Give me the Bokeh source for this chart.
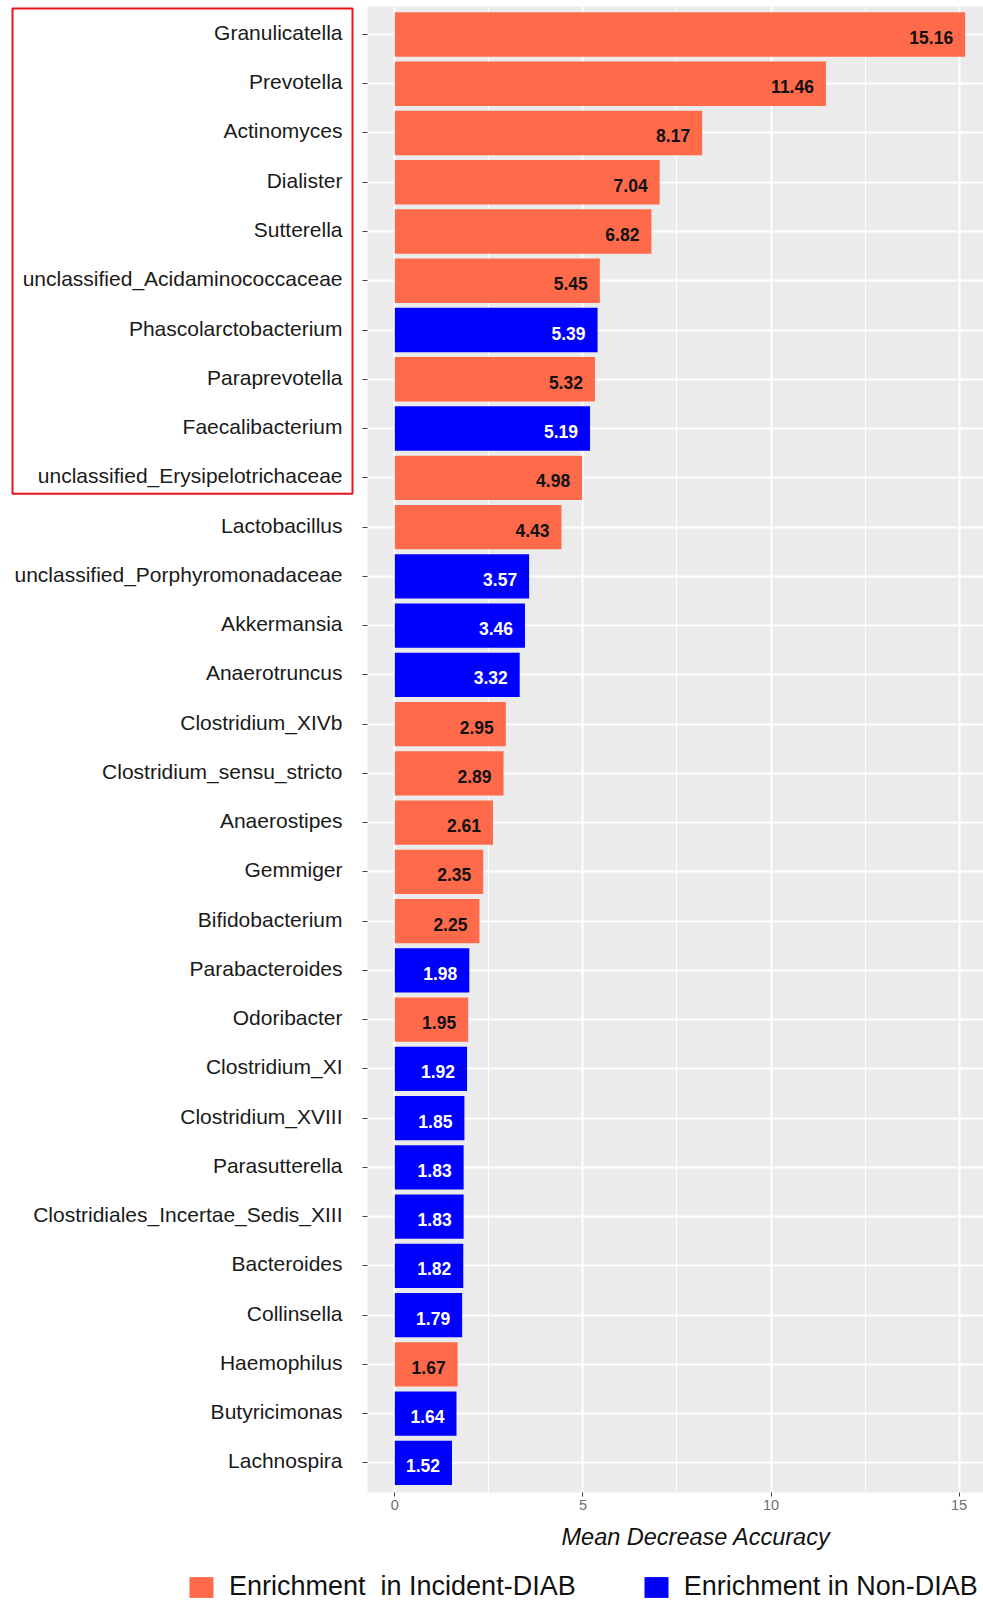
from bokeh.plotting import figure
from bokeh.layouts import row, column
from bokeh.models import (ColumnDataSource, Range1d, FixedTicker, Legend, LegendItem, Title)
from bokeh.core.properties import value
from bokeh.embed import file_html
from bokeh.resources import INLINE

# ---- data (top to bottom) ----
genera = ["Granulicatella", "Prevotella", "Actinomyces", "Dialister", "Sutterella",
          "unclassified_Acidaminococcaceae", "Phascolarctobacterium", "Paraprevotella",
          "Faecalibacterium", "unclassified_Erysipelotrichaceae", "Lactobacillus",
          "unclassified_Porphyromonadaceae", "Akkermansia", "Anaerotruncus",
          "Clostridium_XIVb", "Clostridium_sensu_stricto", "Anaerostipes", "Gemmiger",
          "Bifidobacterium", "Parabacteroides", "Odoribacter", "Clostridium_XI",
          "Clostridium_XVIII", "Parasutterella", "Clostridiales_Incertae_Sedis_XIII",
          "Bacteroides", "Collinsella", "Haemophilus", "Butyricimonas", "Lachnospira"]
mda = [15.16, 11.46, 8.17, 7.04, 6.82, 5.45, 5.39, 5.32, 5.19, 4.98, 4.43, 3.57, 3.46,
       3.32, 2.95, 2.89, 2.61, 2.35, 2.25, 1.98, 1.95, 1.92, 1.85, 1.83, 1.83, 1.82,
       1.79, 1.67, 1.64, 1.52]
group = ["I", "I", "I", "I", "I", "I", "N", "I", "N", "I", "I", "N", "N", "N", "I", "I",
         "I", "I", "I", "N", "I", "N", "N", "N", "N", "N", "N", "I", "N", "N"]
group_names = {"I": "Enrichment  in Incident-DIAB", "N": "Enrichment in Non-DIAB"}
x_ticks = [0, 5, 10, 15]
highlight_n = 10  # top genera framed in red

ORANGE = "#FF6A4B"
BLUE = "#0000FF"
fill = [ORANGE if g == "I" else BLUE for g in group]
tcol = ["#111111" if g == "I" else "white" for g in group]
idx = list(range(len(genera)))

src = ColumnDataSource(dict(idx=idx, val=mda, fill=fill, tcol=tcol, name=genera,
                            lab=[f"{v:.2f}" for v in mda]))

H1 = 1565
BOT = H1 - 1492
y_rng = Range1d(29.6, -0.568)

# ---- left panel: genus names + red highlight frame ----
L = figure(width=359, height=H1, output_backend="svg", toolbar_location=None,
           x_range=Range1d(0, 359), y_range=y_rng, x_axis_type=None, y_axis_type=None,
           min_border_left=0, min_border_right=0, min_border_top=6, min_border_bottom=BOT)
L.background_fill_color = "white"
L.border_fill_color = "white"
L.outline_line_color = None
L.xgrid.visible = False
L.ygrid.visible = False
L.text(x=342, y="idx", text="name", text_align="right", text_baseline="middle",
       y_offset=-2, text_color="#1a1a1a", text_font=value("Liberation Sans"),
       text_font_size="21px", source=src)
L.quad(left=[12], right=[352], top=[-0.528], bottom=[highlight_n - 1 + 0.324],
       fill_alpha=0, line_color="#E8141B", line_width=2)

# ---- main panel ----
M = figure(width=624, height=H1, output_backend="svg", toolbar_location=None,
           x_range=Range1d(-0.7257, 15.648), y_range=y_rng,
           min_border_left=8, min_border_right=0, min_border_top=6, min_border_bottom=BOT)
M.background_fill_color = "#EBEBEB"
M.border_fill_color = "white"
M.outline_line_color = None

r = M.hbar(y="idx", left=0, right="val", height=0.9, fill_color="fill",
           line_color=None, source=src)
M.text(x="val", y="idx", text="lab", text_align="right", text_baseline="middle",
       x_offset=-12, y_offset=3, text_color="tcol", text_font=value("Liberation Sans"),
       text_font_style="bold", text_font_size="17.5px", source=src)

xa = M.xaxis[0]
xa.ticker = FixedTicker(ticks=x_ticks, minor_ticks=[2.5, 7.5, 12.5])
xa.axis_line_color = None
xa.major_tick_out = 4
xa.major_tick_in = 0
xa.minor_tick_line_color = None
xa.major_tick_line_color = "#444444"
xa.major_label_text_font = "Liberation Sans"
xa.major_label_text_font_size = "14.5px"
xa.major_label_text_color = "#6e6e6e"
xa.major_label_standoff = 3

ya = M.yaxis[0]
ya.ticker = FixedTicker(ticks=idx)
ya.major_label_overrides = {i: "" for i in idx}
ya.axis_line_color = None
ya.minor_tick_line_color = None
ya.major_tick_out = 5
ya.major_tick_in = 0
ya.major_tick_line_color = "#444444"
ya.major_label_standoff = 0

M.xgrid.grid_line_color = "white"
M.xgrid.grid_line_width = 2
M.xgrid.minor_grid_line_color = "white"
M.xgrid.minor_grid_line_width = 1
M.ygrid.grid_line_color = "white"
M.ygrid.grid_line_width = 2

M.add_layout(Title(text="Mean Decrease Accuracy", align="left", offset=194,
                   text_font="Liberation Sans", text_font_style="italic",
                   text_font_size="23.5px", text_color="#111111", standoff=19), "below")

# ---- legend strip ----
LG = figure(width=983, height=1603 - H1, output_backend="svg", toolbar_location=None,
            x_range=Range1d(0, 1), y_range=Range1d(0, 1), x_axis_type=None,
            y_axis_type=None, min_border=0)
LG.outline_line_color = None
LG.xgrid.visible = False
LG.ygrid.visible = False
# zero-width stand-ins that only carry the legend swatches
r_i = LG.hbar(y=[0.5], left=[0], right=[0], height=0.5, fill_color=ORANGE, line_color=None)
r_n = LG.hbar(y=[0.5], left=[0], right=[0], height=0.5, fill_color=BLUE, line_color=None)
legend = Legend(items=[LegendItem(label=group_names["I"], renderers=[r_i]),
                       LegendItem(label=group_names["N"], renderers=[r_n])],
                orientation="horizontal", location=(186, 1))
legend.glyph_width = 30
legend.glyph_height = 26
legend.label_standoff = 13
legend.spacing = 65
legend.padding = 0
legend.margin = 0
legend.border_line_color = None
legend.background_fill_alpha = 0
legend.inactive_fill_alpha = 0
legend.label_text_font = "Liberation Sans"
legend.label_text_font_size = "27px"
legend.label_text_color = "#111111"
legend.label_height = 26
LG.add_layout(legend, "center")

page = column(row(L, M), LG)
open("out.html", "w").write(file_html(page, INLINE))
